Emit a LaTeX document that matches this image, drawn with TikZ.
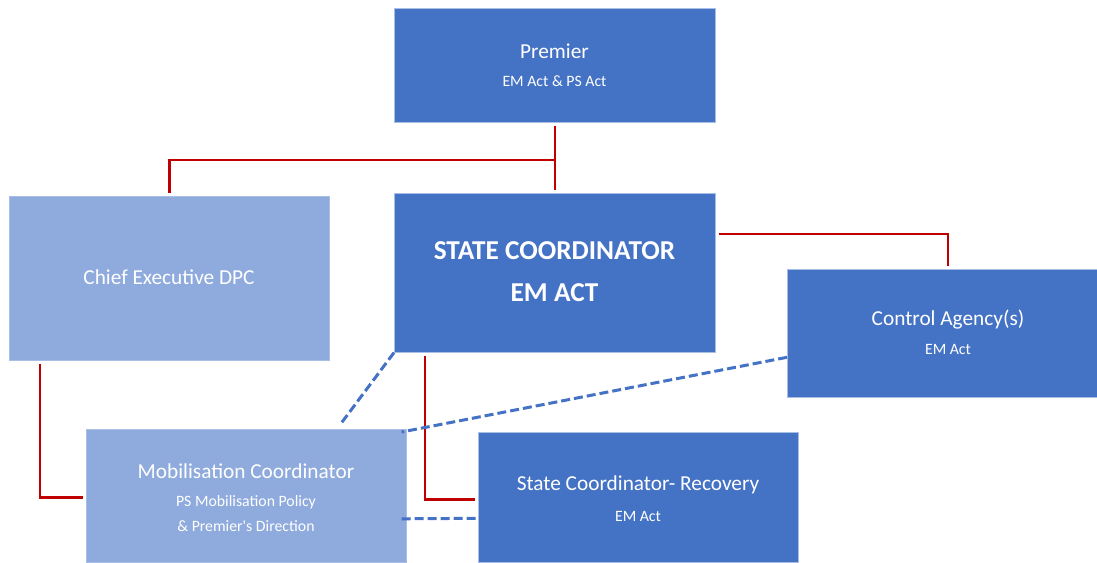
\documentclass[tikz,border=0pt]{standalone}
\usepackage{fontspec}
\setmainfont{Carlito}
\newfontfamily\plainfont{Carlito}
\usetikzlibrary{calc}
\definecolor{darkblue}{HTML}{4472C4}
\definecolor{lightblue}{HTML}{8FAADC}
\definecolor{linkred}{HTML}{C00000}
\definecolor{rim}{HTML}{A9BEE4}
\tikzset{
  box/.style={draw=rim, line width=0.6pt, anchor=north west, inner sep=0pt},
  darkbox/.style={box, fill=darkblue},
  lightbox/.style={box, fill=lightblue},
  txt/.style={text=white, inner sep=0pt, anchor=center},
  big/.style={txt, font=\plainfont\fontsize{21.3}{25}\selectfont},
  small/.style={txt, font=\plainfont\fontsize{15.8}{19}\selectfont},
  heavy/.style={txt, font=\plainfont\fontsize{27.3}{32}\selectfont\bfseries},
  redline/.style={draw=linkred, line width=2.4pt},
  dashlink/.style={draw=darkblue, line width=3pt, dash pattern=on 9pt off 4pt},
}
\begin{document}
\begin{tikzpicture}[x=1pt, y=-1pt]
  \useasboundingbox (0,0) rectangle (1097,562);

  % boxes
  \node[darkbox, minimum width=321pt, minimum height=114pt] (premier) at (394,8) {};
  \node[darkbox, minimum width=321pt, minimum height=159pt] (state) at (394,193) {};
  \node[lightbox, minimum width=320pt, minimum height=164pt] (chief) at (9,196) {};
  \node[darkbox, minimum width=316pt, minimum height=128pt] (control) at (787,269) {};
  \node[lightbox, minimum width=320pt, minimum height=133pt] (mob) at (86,429) {};
  \node[darkbox, minimum width=320pt, minimum height=130pt] (recovery) at (478,432) {};

  % labels
  \node[big] (premierT) at (554.5,51) {Premier};
  \node[small] (premierS) at (554.5,81) {EM Act \& PS Act};
  \node[heavy] (stateT) at (554.5,251) {STATE COORDINATOR};
  \node[heavy] (stateS) at (554.5,293) {EM ACT};
  \node[big] (chiefT) at (169,277) {Chief Executive DPC};
  \node[big] (controlT) at (948,320) {Control Agency(s)};
  \node[small] (controlS) at (948,349) {EM Act};
  \node[big] (mobT) at (246,471) {Mobilisation Coordinator};
  \node[small] (mobS) at (246,502) {PS Mobilisation Policy};
  \node[small] (mobS2) at (246,526) {\& Premier's Direction};
  \node[big] (recT) at (638,485) {State Coordinator- Recovery};
  \node[small] (recS) at (638,516) {EM Act};

  % reporting lines
  \coordinate (split) at (premier.south |- {(0,160)});
  \draw[redline] ([yshift=-3pt]premier.south) -- ([yshift=3pt]state.north);
  \draw[redline] (split) -| ([yshift=3pt]chief.north);
  \draw[redline] ([xshift=3pt]state.east |- {(0,234)}) -| ([xshift=161pt,yshift=3pt]control.north west);
  \draw[redline] ([xshift=31pt,yshift=-3pt]chief.south west) |- ([xshift=-3pt,yshift=-1.5pt]mob.west);
  \draw[redline] ([xshift=31pt,yshift=-3pt]state.south west) |- ([xshift=-3pt,yshift=-2pt]recovery.west);

  % coordination links
  \draw[dashlink] (state.south west) -- ([xshift=-66pt,yshift=5pt]mob.north east);
  \draw[dashlink] ([yshift=-24pt]control.west) -- ([xshift=-5pt,yshift=-3pt]mob.north east);
  \draw[dashlink] ([xshift=-5pt,yshift=-23pt]mob.east) -- ([yshift=-21pt]recovery.west);
\end{tikzpicture}
\end{document}
